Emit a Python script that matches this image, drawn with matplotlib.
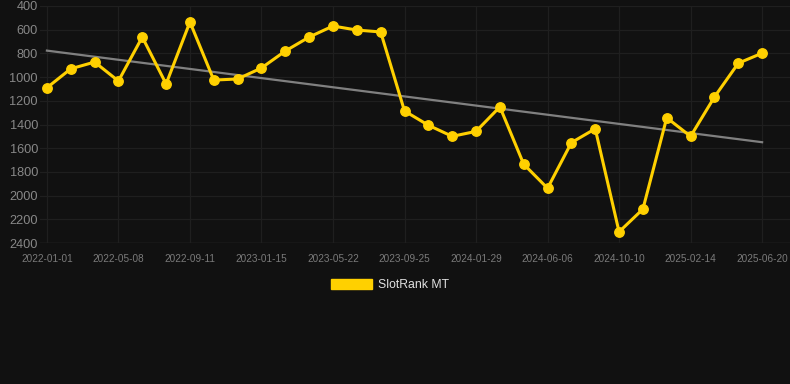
import matplotlib
matplotlib.use("Agg")
import matplotlib.pyplot as plt
import numpy as np
from matplotlib.patches import Patch

plt.rcParams["font.family"] = ["Liberation Sans", "DejaVu Sans"]

# Data
ranks = [1090, 930, 873, 1033, 662, 1058, 535, 1025, 1016, 923, 780, 662, 569, 603, 619,
         1286, 1406, 1500, 1458, 1251, 1735, 1938, 1553, 1436, 2306, 2114, 1343, 1500,
         1168, 883, 798]
tick_labels = ["2022-01-01", "2022-05-08", "2022-09-11", "2023-01-15", "2023-05-22",
               "2023-09-25", "2024-01-29", "2024-06-06", "2024-10-10", "2025-02-14",
               "2025-06-20"]
y_ticks = [400, 600, 800, 1000, 1200, 1400, 1600, 1800, 2000, 2200, 2400]
series_name = "SlotRank MT"

bg = "#111111"
yellow = "#FFD000"

fig = plt.figure(figsize=(7.9, 3.84), dpi=100, facecolor=bg)
ax = fig.add_axes([40 / 790, (384 - 243) / 384, 750 / 790, 237 / 384], facecolor=bg)

x = np.arange(len(ranks))
slope, intercept = np.polyfit(x, ranks, 1)
ax.plot([x[0], x[-1]], [intercept, intercept + slope * x[-1]], color="#808080", lw=1.6, zorder=2)
ax.plot(x, ranks, color=yellow, lw=2.2, marker="o", ms=6.8, zorder=3)

ax.set_ylim(2400, 400)
ax.set_xlim(-0.29, 31.17)
ax.set_yticks(y_ticks)
ax.set_yticklabels([str(v) for v in y_ticks])
ax.set_xticks(x[::3])
ax.set_xticklabels(tick_labels)

ax.grid(True, color="#1f1f1f", lw=0.9)
for s in ax.spines.values():
    s.set_visible(False)
ax.axhline(2400, color="#2e2e2e", lw=1, zorder=1)
ax.tick_params(axis="y", colors="#888888", labelsize=9.2, length=0, pad=1.5)
ax.tick_params(axis="x", colors="#7a7a7a", labelsize=7.2, length=0, pad=8)

handle = Patch(facecolor=yellow, edgecolor=yellow)
fig.legend([handle], [series_name], loc="center",
           bbox_to_anchor=(0.5 - 5 / 790, 1 - 285 / 384),
           frameon=False, handlelength=3.3, handleheight=0.9, fontsize=8.8,
           labelcolor="#e0e0e0", handletextpad=0.5)

fig.savefig("out.png", dpi=100, facecolor=bg)
